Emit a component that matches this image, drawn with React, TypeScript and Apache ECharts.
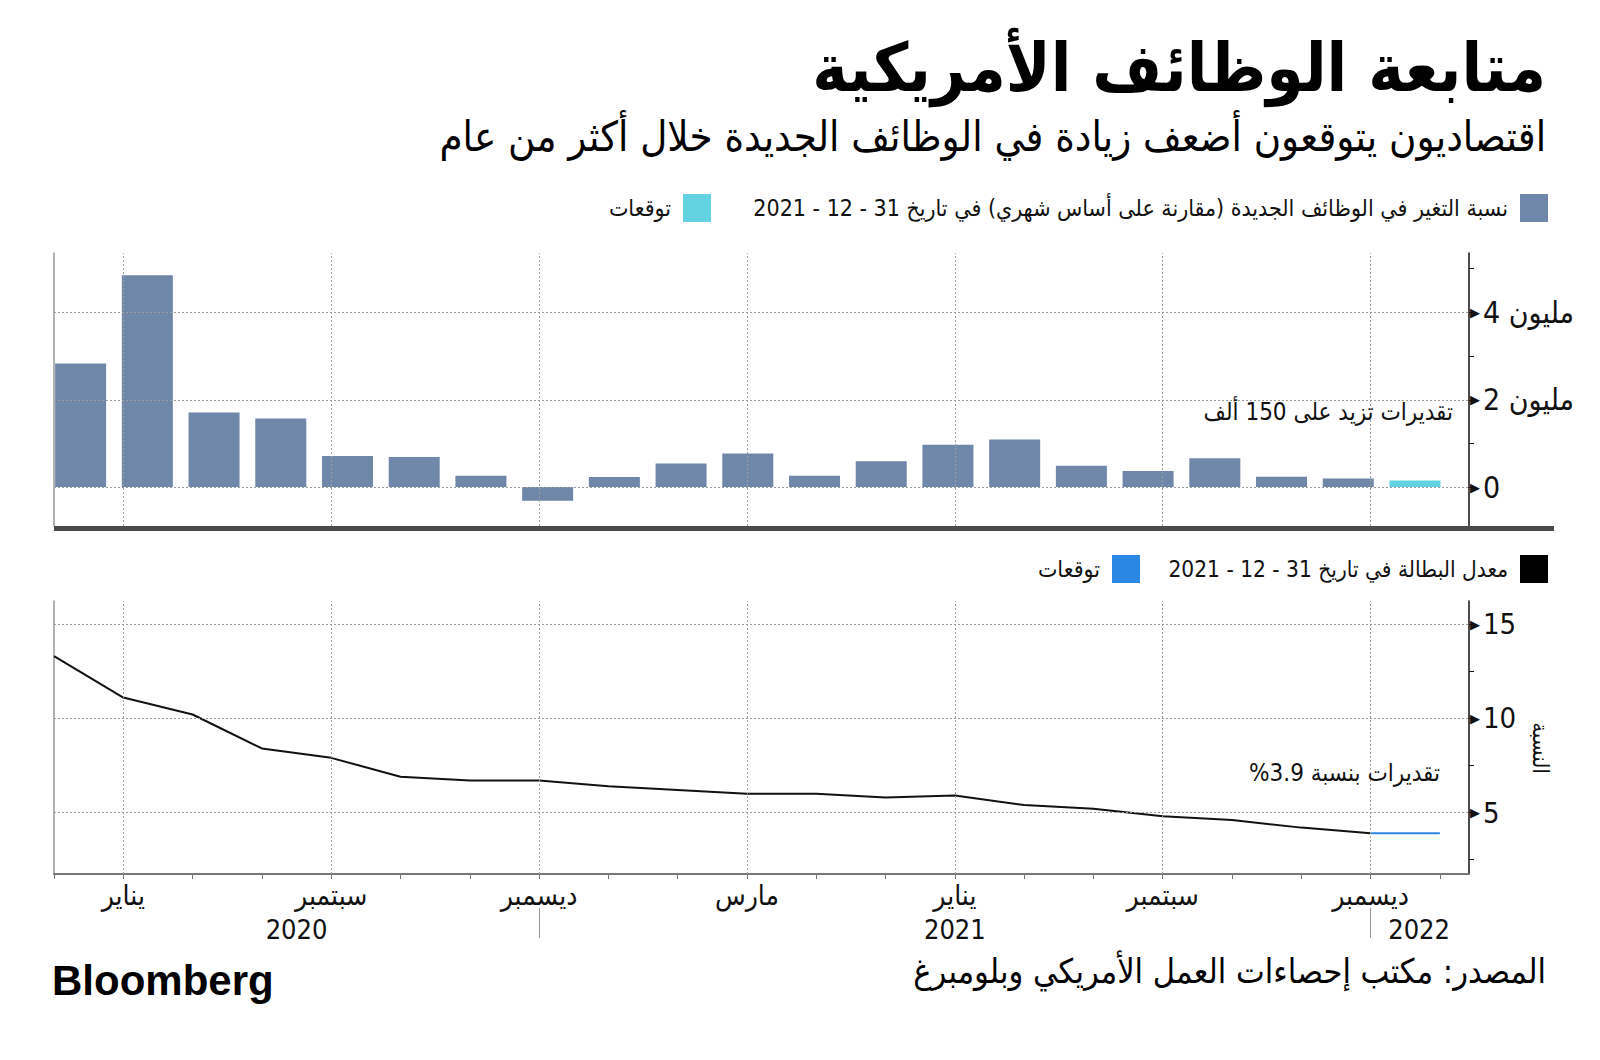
import React, { useEffect, useRef } from 'react';
import * as echarts from 'echarts';

const FONT = '"DejaVu Sans Condensed", "DejaVu Sans", sans-serif';

const TITLE = 'متابعة الوظائف الأمريكية';
const SUBTITLE = 'اقتصاديون يتوقعون أضعف زيادة في الوظائف الجديدة خلال أكثر من عام';
const SOURCE = 'المصدر: مكتب إحصاءات العمل الأمريكي وبلومبرغ';
const BRAND = 'Bloomberg';
const JOBS_NAME = 'نسبة التغير في الوظائف الجديدة (مقارنة على أساس شهري) في تاريخ 31 - 12 - 2021';
const RATE_NAME = 'معدل البطالة في تاريخ 31 - 12 - 2021';
const FORECAST_NAME = 'توقعات';
const JOBS_NOTE = 'تقديرات تزيد على 150 ألف';
const RATE_NOTE = '\u200Fتقديرات بنسبة 3.9%\u200F';
const RATE_AXIS_NAME = 'النسبة';
const MILLION = 'مليون';

// Monthly change in payrolls (thousands), May 2020 .. Dec 2021
const jobsChangeK = [2830, 4850, 1710, 1570, 710, 690, 260, -310, 230, 540, 770, 260, 590, 970, 1090, 490, 370, 660, 240, 200];
// Forecast (Jan 2022), thousands
const jobsForecastK = [150];

// Unemployment rate (%), May 2020 .. Dec 2021
const unemploymentRate = [13.3, 11.1, 10.2, 8.4, 7.9, 6.9, 6.7, 6.7, 6.4, 6.2, 6.0, 6.0, 5.8, 5.9, 5.4, 5.2, 4.8, 4.6, 4.2, 3.9];
const unemploymentForecast = [3.9];

// Time axis (month index, 0 = May 2020)
const monthTickIndex = [0, 1, 2, 3, 4, 5, 6, 7, 8, 9, 10, 11, 12, 13, 14, 15, 16, 17, 18, 19, 20];
const monthLabelIndex = [1, 4, 7, 10, 13, 16, 19];
const monthLabels = ['يناير', 'سبتمبر', 'ديسمبر', 'مارس', 'يناير', 'سبتمبر', 'ديسمبر'];
const yearLabelIndex = [3.5, 13, 19.7];
const yearLabels = ['2020', '2021', '2022'];
const yearSeparatorIndex = [7, 19];

const jobsTicksK = [0, 1000, 2000, 3000, 4000, 5000];
const jobsLabelTicksK = [0, 2000, 4000];
const rateTicks = [2.5, 5, 7.5, 10, 12.5, 15];
const rateLabelTicks = [5, 10, 15];

const STEEL = '#6f87a8';
const CYAN = '#63d3e2';
const BLUE = '#2a88e4';
const GRIDLINE = '#9c9c9c';

function jobsLabel(v: number): string {
  const t = v === 0 ? '0' : `${v / 1000} ${MILLION}`;
  return `{t|▶}{v|${t}}`;
}

const yLabelRich = {
  t: { fontSize: 13, color: '#111', fontFamily: 'DejaVu Sans', padding: [0, 0, 0, 0] },
  v: { fontSize: 29, color: '#111', fontFamily: FONT, padding: [0, 0, 0, 3] },
};

function legendItem(name: string, color: string, right: number, top: number, fontSize: number) {
  return {
    right, top, padding: 0, orient: 'horizontal', align: 'right', icon: 'rect',
    itemWidth: 28, itemHeight: 28, itemGap: 0, selectedMode: false,
    textStyle: { fontSize, fontFamily: FONT, color: '#111', padding: [0, 7, 0, 0] },
    data: [{ name, itemStyle: { color } }],
  };
}

export default function App() {
  const ref = useRef<HTMLDivElement>(null);

  useEffect(() => {
    if (!ref.current) return;
    const chart = echarts.init(ref.current, null, { renderer: 'svg' });

    const gridLineStyle = { color: GRIDLINE, type: [2, 2] as any, width: 1 };

    const option: any = {
      animation: false,
      backgroundColor: '#ffffff',
      textStyle: { fontFamily: FONT },
      title: [
        { text: TITLE, right: 54, top: 34, padding: 0, textStyle: { fontSize: 67, fontWeight: 'bold', fontFamily: FONT, color: '#000' } },
        { text: SUBTITLE, right: 54, top: 115, padding: 0, textStyle: { fontSize: 41.5, fontWeight: 'normal', fontFamily: FONT, color: '#000' } },
        { text: SOURCE, right: 54, top: 954, padding: 0, textStyle: { fontSize: 34, fontWeight: 'normal', fontFamily: FONT, color: '#000' } },
        { text: BRAND, left: 52, top: 959, padding: 0, textStyle: { fontSize: 42, fontWeight: 'bold', fontFamily: '"Liberation Sans", Arial, sans-serif', color: '#000' } },
      ],
      legend: [
        legendItem(JOBS_NAME, STEEL, 52, 194, 23),
        legendItem(FORECAST_NAME, CYAN, 889, 194, 23),
        legendItem(RATE_NAME, '#000', 52, 555, 22.5),
        legendItem(FORECAST_NAME, BLUE, 460, 555, 23),
      ],
      grid: [
        { left: 54, top: 253, width: 1415, height: 273, containLabel: false, outerBoundsMode: 'none' },
        { left: 54, top: 601, width: 1415, height: 273, containLabel: false, outerBoundsMode: 'none' },
      ],
      xAxis: [
        // 0: bars axis (top)
        { type: 'value', gridIndex: 0, min: -0.399, max: 20.81, show: false },
        // 1: months axis (top, for grid lines)
        { type: 'value', gridIndex: 0, min: 0, max: 20.42, show: false },
        // 2: months axis (bottom)
        {
          type: 'value', gridIndex: 1, min: 0, max: 20.42, position: 'bottom',
          axisLine: { show: true, onZero: false, lineStyle: { color: '#777', width: 2 } },
          axisTick: { show: true, length: 5, lineStyle: { color: '#777', width: 1 }, customValues: monthTickIndex },
          axisLabel: {
            show: true, margin: 7, fontSize: 28, lineHeight: 28, color: '#111', fontFamily: FONT,
            customValues: monthLabelIndex,
            formatter: (v: number) => { const i = monthLabelIndex.indexOf(v); return i >= 0 ? monthLabels[i] : ''; },
          },
          splitLine: { show: false },
        },
        // 3: year labels
        {
          type: 'value', gridIndex: 1, min: 0, max: 20.42, position: 'bottom',
          axisLine: { show: false }, axisTick: { show: false }, splitLine: { show: false },
          axisLabel: {
            show: true, margin: 42, fontSize: 27, lineHeight: 26, color: '#111', fontFamily: FONT,
            customValues: yearLabelIndex,
            formatter: (v: number) => { const i = yearLabelIndex.indexOf(v); return i >= 0 ? yearLabels[i] : ''; },
          },
        },
        // 4: year separators
        {
          type: 'value', gridIndex: 1, min: 0, max: 20.42, position: 'bottom', offset: 34,
          axisLine: { show: false }, splitLine: { show: false }, axisLabel: { show: false },
          axisTick: { show: true, length: 30, lineStyle: { color: '#999', width: 1 }, customValues: yearSeparatorIndex },
        },
      ],
      yAxis: [
        // 0: top right axis
        {
          type: 'value', gridIndex: 0, position: 'right', min: -890, max: 5360,
          axisLine: { show: true, onZero: false, lineStyle: { color: '#111', width: 1.5 } },
          axisTick: { show: true, inside: false, length: 5, lineStyle: { color: '#111', width: 1 }, customValues: jobsTicksK },
          axisLabel: { show: true, margin: 1, customValues: jobsLabelTicksK, formatter: jobsLabel, rich: { ...yLabelRich, v: { ...yLabelRich.v, fontSize: 30 } } },
          splitLine: { show: false },
        },
        // 1: top left line
        {
          type: 'value', gridIndex: 0, position: 'left', min: -890, max: 5360,
          axisLine: { show: true, onZero: false, lineStyle: { color: '#999', width: 1.5 } },
          axisTick: { show: false }, axisLabel: { show: false }, splitLine: { show: false },
        },
        // 2: bottom right axis
        {
          type: 'value', gridIndex: 1, position: 'right', min: 1.74, max: 16.22,
          axisLine: { show: true, onZero: false, lineStyle: { color: '#111', width: 1.5 } },
          axisTick: { show: true, inside: false, length: 5, lineStyle: { color: '#111', width: 1 }, customValues: rateTicks },
          axisLabel: {
            show: true, margin: 1, customValues: rateLabelTicks,
            formatter: (v: number) => `{t|▶}{v|${v}}`, rich: yLabelRich,
          },
          splitLine: { show: false },
        },
        // 3: bottom left line
        {
          type: 'value', gridIndex: 1, position: 'left', min: 1.74, max: 16.22,
          axisLine: { show: true, onZero: false, lineStyle: { color: '#999', width: 1.5 } },
          axisTick: { show: false }, axisLabel: { show: false }, splitLine: { show: false },
        },
      ],
      series: [
        {
          type: 'line', xAxisIndex: 1, yAxisIndex: 0, data: [], silent: true, z: 1,
          markLine: {
            silent: true, symbol: 'none', label: { show: false }, lineStyle: gridLineStyle,
            emphasis: { disabled: true },
            data: [
              ...monthLabelIndex.map((v) => ({ xAxis: v })),
              ...jobsLabelTicksK.map((v) => ({ yAxis: v })),
            ],
          },
        },
        {
          name: JOBS_NAME, type: 'bar', xAxisIndex: 0, yAxisIndex: 0, barWidth: 51, barGap: '-100%', z: 3,
          itemStyle: { color: STEEL },
          data: jobsChangeK.map((v, i) => [i, v]),
        },
        {
          name: FORECAST_NAME, type: 'bar', xAxisIndex: 0, yAxisIndex: 0, barWidth: 51, barGap: '-100%', z: 3,
          itemStyle: { color: CYAN },
          data: jobsForecastK.map((v, i) => [jobsChangeK.length + i, v]),
        },
        {
          type: 'line', xAxisIndex: 2, yAxisIndex: 2, data: [], silent: true, z: 1,
          markLine: {
            silent: true, symbol: 'none', label: { show: false }, lineStyle: gridLineStyle,
            emphasis: { disabled: true },
            data: [
              ...monthLabelIndex.map((v) => ({ xAxis: v })),
              ...rateLabelTicks.map((v) => ({ yAxis: v })),
            ],
          },
        },
        {
          name: RATE_NAME, type: 'line', xAxisIndex: 2, yAxisIndex: 2, symbol: 'none', z: 3,
          lineStyle: { color: '#111', width: 2 }, itemStyle: { color: '#111' },
          data: unemploymentRate.map((v, i) => [i, v]),
        },
        {
          name: FORECAST_NAME, type: 'line', xAxisIndex: 2, yAxisIndex: 2, symbol: 'none', z: 3,
          lineStyle: { color: BLUE, width: 2 }, itemStyle: { color: BLUE },
          data: [
            [unemploymentRate.length - 1, unemploymentRate[unemploymentRate.length - 1]],
            ...unemploymentForecast.map((v, i) => [unemploymentRate.length + i, v]),
          ],
        },
      ],
      graphic: [
        { type: 'rect', shape: { x: 54, y: 526, width: 1500, height: 5 }, style: { fill: '#4a4a4a' }, z: 10 },
        {
          type: 'text', x: 1453, y: 412, z: 10,
          style: { text: JOBS_NOTE, align: 'right', verticalAlign: 'middle', fontSize: 24, fontFamily: FONT, fill: '#111' },
        },
        {
          type: 'text', x: 1440, y: 773, z: 10,
          style: { text: RATE_NOTE, align: 'right', verticalAlign: 'middle', fontSize: 24, fontFamily: FONT, fill: '#111' },
        },
        {
          type: 'text', x: 1540, y: 748, z: 10, rotation: -Math.PI / 2,
          style: { text: RATE_AXIS_NAME, align: 'center', verticalAlign: 'middle', fontSize: 22, fontFamily: FONT, fill: '#111' },
        },
      ],
    };

    chart.setOption(option);
    return () => chart.dispose();
  }, []);

  return (
    <div
      ref={ref}
      style={{ position: 'fixed', left: 0, top: 0, width: 1600, height: 1060, background: '#fff' }}
    />
  );
}
